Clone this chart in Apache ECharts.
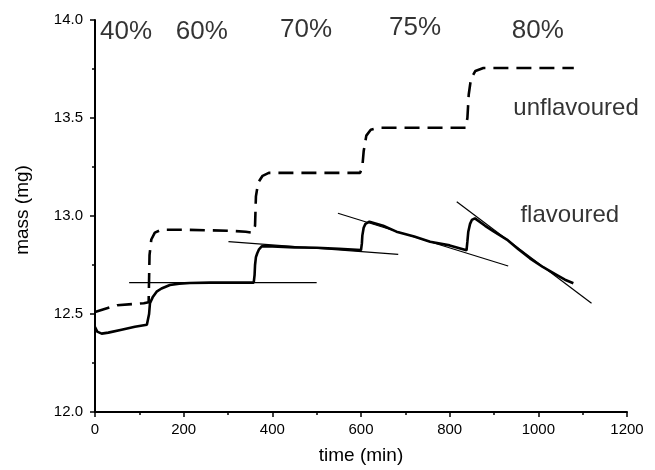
<!DOCTYPE html>
<html>
<head>
<meta charset="utf-8">
<title>mass vs time</title>
<script src="https://cdn.jsdelivr.net/npm/echarts@6/dist/echarts.min.js"></script>
<style>
  html, body { margin: 0; padding: 0; background: #fff; }
  #main { width: 655px; height: 470px; }
</style>
</head>
<body>
<div id="main"></div>
<script>
// unflavoured (dashed) trace
var unflavT = [0, 50, 110, 121, 123, 127, 135, 150, 200, 300, 340, 355, 361, 363, 368, 378, 392, 450, 550, 598, 603, 606, 612, 622, 640, 700, 800, 836, 840, 843, 848, 858, 876, 950, 1080];
var unflavM = [12.51, 12.545, 12.555, 12.56, 12.80, 12.88, 12.915, 12.93, 12.93, 12.925, 12.92, 12.915, 12.95, 13.10, 13.17, 13.205, 13.22, 13.22, 13.22, 13.22, 13.25, 13.33, 13.41, 13.44, 13.45, 13.45, 13.45, 13.45, 13.50, 13.62, 13.70, 13.74, 13.755, 13.755, 13.755];

// flavoured (solid) trace
var flavT = [0, 5, 15, 30, 60, 90, 117, 121, 122, 124, 130, 139, 150, 169, 190, 214, 260, 358, 360, 361, 363, 366, 370, 376, 400, 450, 500, 550, 600, 602, 603, 606, 610, 619, 650, 680, 720, 756, 800, 838, 840, 842, 846, 850, 857, 880, 900, 929, 955, 981, 1010, 1041, 1060, 1079];
var flavM = [12.434, 12.41, 12.40, 12.405, 12.42, 12.435, 12.445, 12.45, 12.50, 12.555, 12.585, 12.614, 12.63, 12.648, 12.655, 12.658, 12.66, 12.66, 12.70, 12.75, 12.79, 12.81, 12.83, 12.845, 12.845, 12.84, 12.838, 12.833, 12.826, 12.86, 12.90, 12.94, 12.96, 12.971, 12.95, 12.92, 12.895, 12.869, 12.85, 12.825, 12.87, 12.92, 12.96, 12.98, 12.988, 12.95, 12.92, 12.88, 12.83, 12.784, 12.74, 12.70, 12.675, 12.657];

// thin tangent lines, [start, end]
var tan1T = [77, 500],   tan1M = [12.66, 12.66];
var tan2T = [301, 684],  tan2M = [12.869, 12.804];
var tan3T = [548, 932],  tan3M = [13.014, 12.745];
var tan4T = [816, 1120], tan4M = [13.073, 12.555];

// humidity labels along the top, and curve names
var pctText = ['40%', '60%', '70%', '75%', '80%'];
var pctT = [70, 241, 476, 722, 999];
var pctM = [13.94, 13.94, 13.95, 13.96, 13.945];
var nameText = ['unflavoured', 'flavoured'];
var nameT = [1085, 1071];
var nameM = [13.55, 13.005];

var xTicks = [0, 200, 400, 600, 800, 1000, 1200];
var yTicks = [12.0, 12.5, 13.0, 13.5, 14.0];

function zip(a, b, c){
  var out = [];
  for(var i = 0; i < a.length; i++){
    out.push(c ? [a[i], b[i], c[i]] : [a[i], b[i]]);
  }
  return out;
}

var font = '"Liberation Sans", Arial, sans-serif';

function thinLine(t, m){
  return {
    type: 'line', data: zip(t, m), symbol: 'none', silent: true,
    lineStyle: {color: '#000', width: 1.2}
  };
}

function textSeries(t, m, txt, size){
  return {
    type: 'scatter', data: zip(t, m, txt), symbolSize: 0, silent: true,
    itemStyle: {color: '#000'},
    label: {
      show: true, position: 'inside', color: '#000',
      textBorderWidth: 0, fontFamily: font, fontSize: size,
      formatter: function(p){ return p.data[2]; }
    }
  };
}

var chart = echarts.init(document.getElementById('main'));
chart.setOption({
  animation: false,
  backgroundColor: '#fff',
  grid: {left: 95, right: 28, top: 20, bottom: 58},
  xAxis: {
    type: 'value', min: xTicks[0], max: xTicks[xTicks.length - 1], interval: 200,
    name: 'time (min)', nameLocation: 'middle', nameGap: 34,
    nameTextStyle: {fontFamily: font, fontSize: 19, color: '#000'},
    axisLine: {lineStyle: {color: '#000', width: 2}},
    axisTick: {inside: false, length: 5, lineStyle: {color: '#000', width: 1.5}},
    minorTick: {show: true, splitNumber: 2, length: 3, lineStyle: {color: '#000', width: 1.5}},
    axisLabel: {
      fontFamily: font, fontSize: 15, color: '#000', margin: 10,
      formatter: function(v){ return String(v); }
    },
    splitLine: {show: false}
  },
  yAxis: {
    type: 'value', min: yTicks[0], max: yTicks[yTicks.length - 1], interval: 0.5,
    name: 'mass (mg)', nameLocation: 'middle', nameGap: 63, nameRotate: 90,
    nameTextStyle: {fontFamily: font, fontSize: 19, color: '#000', padding: [0, 0, 0, 12]},
    axisLine: {lineStyle: {color: '#000', width: 2}},
    axisTick: {inside: false, length: 5, lineStyle: {color: '#000', width: 1.5}},
    minorTick: {show: true, splitNumber: 2, length: 3, lineStyle: {color: '#000', width: 1.5}},
    axisLabel: {
      fontFamily: font, fontSize: 15, color: '#000', margin: 12,
      formatter: function(v){ return v.toFixed(1); }
    },
    splitLine: {show: false}
  },
  series: [
    {
      name: 'unflavoured', type: 'line', data: zip(unflavT, unflavM), symbol: 'none',
      lineStyle: {color: '#000', width: 2.6, type: [15, 8]}
    },
    {
      name: 'flavoured', type: 'line', data: zip(flavT, flavM), symbol: 'none',
      lineStyle: {color: '#000', width: 2.6}
    },
    thinLine(tan1T, tan1M),
    thinLine(tan2T, tan2M),
    thinLine(tan3T, tan3M),
    thinLine(tan4T, tan4M),
    textSeries(pctT, pctM, pctText, 26),
    textSeries(nameT, nameM, nameText, 24)
  ]
});
</script>
</body>
</html>
